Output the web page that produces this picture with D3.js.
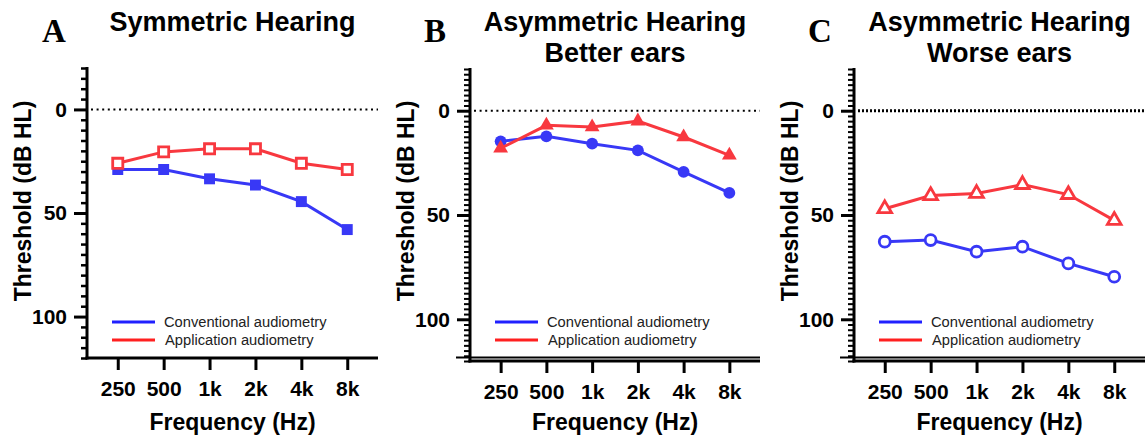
<!DOCTYPE html>
<html>
<head>
<meta charset="utf-8">
<script src="https://cdn.jsdelivr.net/npm/d3@7"></script>
<style>
  body { margin: 0; background: #fff; }
  svg { display: block; }
  text { font-family: "Liberation Sans", Arial, sans-serif; }
</style>
</head>
<body>
<div id="chart"></div>
<script>
// frequencies on the x axis
var FREQS = ["250", "500", "1k", "2k", "4k", "8k"];
var Y_MAJOR = [0, 50, 100];

// thresholds in dB HL
var symConventional = [29, 29, 33.5, 36.5, 44.5, 58];
var symApplication = [26, 20.5, 19, 19, 26, 29];

var betterConventional = [14.7, 12.3, 15.8, 19, 29.3, 39.4];
var betterApplication = [18, 7, 7.8, 5, 12.6, 21.4];

var worseConventional = [62.8, 62, 67.6, 65.2, 73.2, 79.6];
var worseApplication = [47, 40.7, 39.7, 35.4, 40.2, 52.6];

var SERIES_NAMES = ["Conventional audiometry", "Application audiometry"];

var BLUE = "#3838f6";
var RED = "#f8383f";

var panels = [
  { letter: "A", title: ["Symmetric Hearing"], conv: symConventional, app: symApplication,
    ax0: 87, ax1: 378, top: 68, bottom: 358, marker: "square", open: [false, true], dbl: false, minorStep: 5 },
  { letter: "B", title: ["Asymmetric Hearing", "Better ears"], conv: betterConventional, app: betterApplication,
    ax0: 470, ax1: 760, top: 69, bottom: 361, marker: "circtri", open: [false, false], dbl: true, minorStep: 2.5 },
  { letter: "C", title: ["Asymmetric Hearing", "Worse ears"], conv: worseConventional, app: worseApplication,
    ax0: 854, ax1: 1145, top: 69, bottom: 361, marker: "circtri", open: [true, true], dbl: true, minorStep: 2.5 }
];

var svg = d3.select("#chart").append("svg").attr("width", 1147).attr("height", 441);

panels.forEach(function (p, pi) {
  var g = svg.append("g");
  var x = d3.scaleLinear().domain([-0.67, 5.67]).range([p.ax0, p.ax1]);
  var y = d3.scaleLinear().domain([-20, 120]).range([p.top, p.bottom]);
  var cx = (x(0) + x(5)) / 2;

  /* ------- titles ------- */
  p.title.forEach(function (t, i) {
    g.append("text")
      .attr("x", cx)
      .attr("y", 31 + i * 31)
      .attr("text-anchor", "middle")
      .style("font-size", "27px")
      .style("font-weight", "bold")
      .text(t);
  });
  g.append("text")
    .attr("x", p.ax0 - 45 + (pi === 0 ? 0 : -1))
    .attr("y", 42)
    .style("font-family", "'Liberation Serif', 'Times New Roman', serif")
    .style("font-size", "33px")
    .style("font-weight", "bold")
    .text(p.letter);

  /* ------- y axis ------- */
  var minor = d3.range(-20, 120.1, p.minorStep).filter(function (v) { return Y_MAJOR.indexOf(v) < 0; });
  var yMinor = g.append("g")
    .attr("transform", "translate(" + p.ax0 + ",0)")
    .call(d3.axisLeft(y).tickValues(minor).tickSize(6).tickFormat(""));
  var yMajor = g.append("g")
    .attr("transform", "translate(" + p.ax0 + ",0)")
    .call(d3.axisLeft(y).tickValues(Y_MAJOR).tickSize(13).tickPadding(7).tickFormat(d3.format("d")));
  [yMinor, yMajor].forEach(function (a) {
    a.select(".domain").remove();
    a.selectAll(".tick line").attr("stroke", "#000").attr("stroke-width", p.minorStep < 5 ? 2 : 2.5);
  });
  yMajor.selectAll(".tick line").attr("stroke-width", 3);
  yMajor.selectAll(".tick text")
    .style("font-family", "'Liberation Sans', Arial, sans-serif")
    .style("font-size", "21px")
    .style("font-weight", "bold")
    .attr("fill", "#000");
  g.append("line")
    .attr("x1", p.ax0).attr("x2", p.ax0)
    .attr("y1", y(-20) - 1).attr("y2", y(120) + 1.5)
    .attr("stroke", "#000").attr("stroke-width", 3);

  /* ------- x axis ------- */
  var xAxis = g.append("g")
    .attr("transform", "translate(0," + y(120) + ")")
    .call(d3.axisBottom(x).tickValues(d3.range(FREQS.length)).tickSize(12).tickPadding(11)
      .tickFormat(function (i) { return FREQS[i]; }));
  xAxis.select(".domain").remove();
  xAxis.selectAll(".tick line").attr("stroke", "#000").attr("stroke-width", 3);
  xAxis.selectAll(".tick text")
    .style("font-family", "'Liberation Sans', Arial, sans-serif")
    .style("font-size", "21px")
    .style("font-weight", "bold")
    .attr("fill", "#000");
  g.append("line")
    .attr("x1", p.ax0 - 1.5).attr("x2", p.ax1)
    .attr("y1", y(120)).attr("y2", y(120))
    .attr("stroke", "#000").attr("stroke-width", 3);
  if (p.dbl) {
    g.append("line")
      .attr("x1", p.ax0 - 14).attr("x2", p.ax1)
      .attr("y1", y(120) - 3.5).attr("y2", y(120) - 3.5)
      .attr("stroke", "#000").attr("stroke-width", 2);
  }

  /* ------- axis titles ------- */
  g.append("text")
    .attr("x", cx)
    .attr("y", 430)
    .attr("text-anchor", "middle")
    .style("font-size", "23px")
    .style("font-weight", "bold")
    .text("Frequency (Hz)");
  g.append("text")
    .attr("transform", "translate(" + (p.ax0 - 56) + "," + 201 + ") rotate(-90)")
    .attr("text-anchor", "middle")
    .style("font-size", "23px")
    .style("font-weight", "bold")
    .text("Threshold (dB HL)");

  /* ------- zero reference line ------- */
  g.append("line")
    .attr("x1", p.ax0 + 4).attr("x2", p.ax1)
    .attr("y1", y(0)).attr("y2", y(0))
    .attr("stroke", "#000")
    .attr("stroke-width", pi === 2 ? 3 : 2)
    .attr("stroke-dasharray", pi === 2 ? "2,2" : "2,3.6");

  /* ------- series ------- */
  var line = d3.line()
    .x(function (d, i) { return x(i); })
    .y(function (d) { return y(d); });

  var series = [
    { values: p.conv, color: BLUE, open: p.open[0], shape: p.marker === "square" ? d3.symbolSquare : d3.symbolCircle },
    { values: p.app, color: RED, open: p.open[1], shape: p.marker === "square" ? d3.symbolSquare : d3.symbolTriangle }
  ];

  series.forEach(function (s) {
    g.append("path")
      .datum(s.values)
      .attr("d", line)
      .attr("fill", "none")
      .attr("stroke", s.color)
      .attr("stroke-width", 3);
    var size = s.shape === d3.symbolSquare ? 120 : (s.shape === d3.symbolCircle ? 110 : 95);
    if (s.open) size = size * 0.85;
    var sym = d3.symbol().type(s.shape).size(size);
    g.selectAll(null)
      .data(s.values)
      .enter()
      .append("path")
      .attr("d", sym)
      .attr("transform", function (d, i) { return "translate(" + x(i) + "," + y(d) + ")"; })
      .attr("fill", s.open ? "#fff" : s.color)
      .attr("stroke", s.color)
      .attr("stroke-width", s.open ? 2.8 : 0);
  });

  /* ------- legend ------- */
  var lx = p.ax0 + 25;
  [BLUE, RED].forEach(function (c, i) {
    var ly = 322 + i * 18;
    g.append("line")
      .attr("x1", lx).attr("x2", lx + 43)
      .attr("y1", ly).attr("y2", ly)
      .attr("stroke", c === BLUE ? "#2020ff" : "#ff2020")
      .attr("stroke-width", 3);
    g.append("text")
      .attr("x", lx + 52 + i)
      .attr("y", ly + 5)
      .style("font-size", "14.7px")
      .attr("fill", "#222")
      .text(SERIES_NAMES[i]);
  });
});
</script>
</body>
</html>
